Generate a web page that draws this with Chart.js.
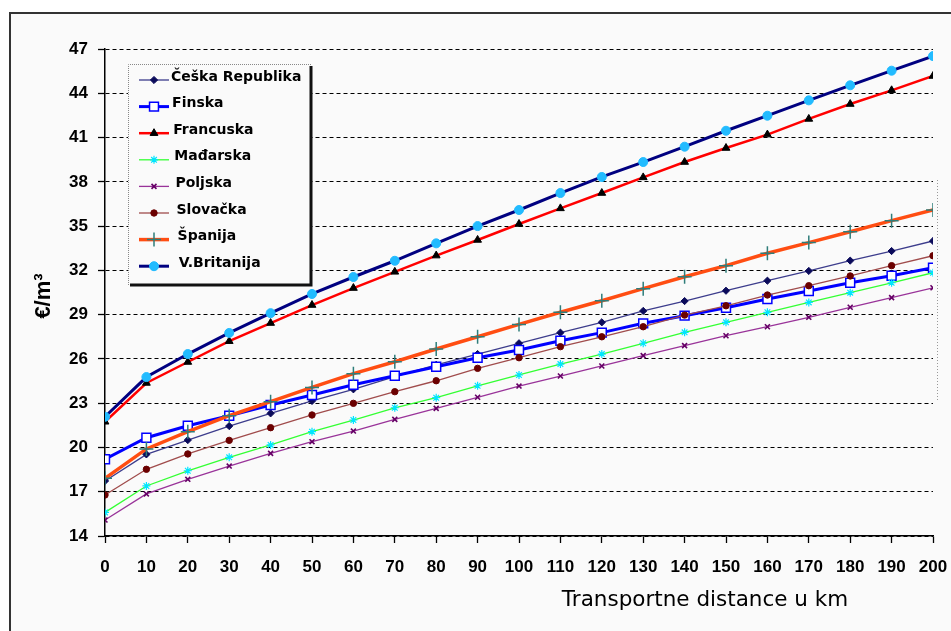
<!DOCTYPE html>
<html>
<head>
<meta charset="utf-8">
<script src="https://cdn.jsdelivr.net/npm/chart.js@4/dist/chart.umd.min.js"></script>
<style>
  html, body { margin: 0; padding: 0; background: #ffffff; width: 951px; height: 631px; overflow: hidden; }
  #frame { position: absolute; left: 9px; top: 12px; width: 980px; height: 660px;
           border-left: 2px solid #333; border-top: 2px solid #333; background: #fafafa; }
  #wrap { position: absolute; left: 0; top: 0; width: 951px; height: 631px; }
</style>
</head>
<body>
<div id="frame"></div>
<div id="wrap"><canvas id="c" width="951" height="631"></canvas></div>
<script>
// Transport distance (km) and cost per cubic metre (€/m³) by country
const distances = [0, 10, 20, 30, 40, 50, 60, 70, 80, 90, 100, 110, 120, 130, 140, 150, 160, 170, 180, 190, 200];

const ceska      = [17.73, 19.53, 20.50, 21.45, 22.31, 23.15, 23.94, 24.80, 25.60, 26.33, 27.06, 27.78, 28.48, 29.25, 29.92, 30.62, 31.30, 31.96, 32.66, 33.31, 33.99];
const finska     = [19.20, 20.66, 21.47, 22.15, 22.88, 23.55, 24.25, 24.86, 25.47, 26.08, 26.60, 27.23, 27.78, 28.41, 28.93, 29.47, 30.06, 30.60, 31.16, 31.64, 32.18];
const francuska  = [21.74, 24.37, 25.79, 27.20, 28.43, 29.65, 30.80, 31.90, 33.00, 34.06, 35.14, 36.20, 37.24, 38.30, 39.34, 40.29, 41.20, 42.26, 43.27, 44.20, 45.17];
const madjarska  = [15.60, 17.39, 18.42, 19.33, 20.17, 21.07, 21.86, 22.69, 23.37, 24.18, 24.91, 25.65, 26.33, 27.06, 27.80, 28.48, 29.16, 29.83, 30.49, 31.16, 31.84];
const poljska    = [15.08, 16.85, 17.84, 18.74, 19.60, 20.39, 21.11, 21.90, 22.65, 23.40, 24.16, 24.84, 25.52, 26.22, 26.90, 27.57, 28.18, 28.82, 29.50, 30.15, 30.82];
const slovacka   = [16.78, 18.52, 19.56, 20.48, 21.34, 22.20, 22.99, 23.78, 24.52, 25.36, 26.08, 26.83, 27.50, 28.18, 28.97, 29.60, 30.33, 30.96, 31.62, 32.32, 32.99];
const spanija    = [17.91, 19.90, 21.07, 22.15, 23.10, 24.07, 25.00, 25.81, 26.67, 27.50, 28.34, 29.16, 29.94, 30.76, 31.57, 32.32, 33.16, 33.88, 34.62, 35.37, 36.09];
const britanija  = [22.08, 24.77, 26.33, 27.76, 29.10, 30.40, 31.55, 32.65, 33.83, 35.00, 36.09, 37.24, 38.33, 39.34, 40.38, 41.46, 42.48, 43.52, 44.54, 45.53, 46.52];

const seriesNames = ['Češka Republika', 'Finska', 'Francuska', 'Mađarska', 'Poljska', 'Slovačka', 'Španija', 'V.Britanija'];
const yTicksMin = 14, yTicksMax = 47, yTicksStep = 3;
const xTitle = 'Transportne distance u km';
const yTitle = '€/m³';

const toPoints = vals => vals.map((v, i) => ({ x: distances[i], y: v }));

const styles = [
  { borderColor: '#3c3c8c', borderWidth: 1.3, pointStyle: 'rectRot',  pointRadius: 3.6, pointBackgroundColor: '#0a0a5a', pointBorderColor: '#0a0a5a', pointBorderWidth: 1 },
  { borderColor: '#0000ff', borderWidth: 3,   pointStyle: 'rect',     pointRadius: 6.3, pointBackgroundColor: '#ffffff', pointBorderColor: '#0000ff', pointBorderWidth: 1.5 },
  { borderColor: '#ff0000', borderWidth: 2.5, pointStyle: 'triangle', pointRadius: 4.5, pointBackgroundColor: '#000000', pointBorderColor: '#000000', pointBorderWidth: 1 },
  { borderColor: '#33ff33', borderWidth: 1.3, pointStyle: 'star',     pointRadius: 4,   pointBackgroundColor: '#00e5ff', pointBorderColor: '#00e5ff', pointBorderWidth: 1.2 },
  { borderColor: '#993399', borderWidth: 1.3, pointStyle: 'crossRot', pointRadius: 3.5, pointBackgroundColor: '#660066', pointBorderColor: '#660066', pointBorderWidth: 1.6 },
  { borderColor: '#a04c4c', borderWidth: 1.3, pointStyle: 'circle',   pointRadius: 3.2, pointBackgroundColor: '#6b0000', pointBorderColor: '#6b0000', pointBorderWidth: 1 },
  { borderColor: '#ff4d12', borderWidth: 3.5, pointStyle: 'cross',    pointRadius: 7,   pointBackgroundColor: '#2e7d7a', pointBorderColor: '#2e7d7a', pointBorderWidth: 1.5 },
  { borderColor: '#000080', borderWidth: 3,   pointStyle: 'circle',   pointRadius: 4.5, pointBackgroundColor: '#22bbff', pointBorderColor: '#22bbff', pointBorderWidth: 1 }
];

const seriesValues = [ceska, finska, francuska, madjarska, poljska, slovacka, spanija, britanija];

const datasets = seriesValues.map((vals, i) => Object.assign({
  label: seriesNames[i],
  data: toPoints(vals),
  tension: 0,
  fill: false,
  order: seriesValues.length - i   // later series drawn on top
}, styles[i]));

// Draws the point marker used in the legend rows
function drawMarker(ctx, ds, x, y) {
  ctx.save();
  ctx.fillStyle = ds.pointBackgroundColor;
  ctx.strokeStyle = ds.pointBorderColor;
  ctx.lineWidth = ds.pointBorderWidth;
  if (Chart.helpers && Chart.helpers.drawPoint) {
    Chart.helpers.drawPoint(ctx, { pointStyle: ds.pointStyle, radius: ds.pointRadius, borderWidth: ds.pointBorderWidth, rotation: 0 }, x, y);
  }
  ctx.restore();
}

const legendBoxPlugin = {
  id: 'legendBox',
  afterDraw(chart) {
    const ctx = chart.ctx;
    const box = { l: 128, t: 64, r: 311, b: 285 };
    ctx.save();
    ctx.fillStyle = '#fafafa';
    ctx.fillRect(box.l, box.t, box.r - box.l, box.b - box.t);
    // dotted top/left edges
    ctx.strokeStyle = '#888';
    ctx.lineWidth = 1;
    ctx.setLineDash([1, 1]);
    ctx.beginPath();
    ctx.moveTo(box.l + 0.5, box.b);
    ctx.lineTo(box.l + 0.5, box.t + 0.5);
    ctx.lineTo(box.r, box.t + 0.5);
    ctx.stroke();
    // heavy shadow on right/bottom edges
    ctx.setLineDash([]);
    ctx.strokeStyle = '#111';
    ctx.lineWidth = 3;
    ctx.beginPath();
    ctx.moveTo(box.r, box.t + 2);
    ctx.lineTo(box.r, box.b);
    ctx.lineTo(box.l + 2, box.b);
    ctx.stroke();

    ctx.font = 'bold 14px "DejaVu Sans"';
    ctx.textBaseline = 'middle';
    ctx.textAlign = 'left';
    chart.data.datasets.forEach((ds, i) => {
      const y = 80 + i * 26.6;
      const x0 = 139, x1 = 169;
      ctx.save();
      ctx.strokeStyle = ds.borderColor;
      ctx.lineWidth = ds.borderWidth;
      ctx.beginPath();
      ctx.moveTo(x0, y);
      ctx.lineTo(x1, y);
      ctx.stroke();
      ctx.restore();
      drawMarker(ctx, ds, 154, y);
      ctx.fillStyle = '#000';
      ctx.fillText(ds.label, 171 + i * 1.1, y - 3);
    });
    ctx.restore();
  }
};

const axisTitlesPlugin = {
  id: 'axisTitles',
  afterDraw(chart) {
    const ctx = chart.ctx;
    ctx.save();
    // thin dotted selection edge at the right of the plot
    ctx.strokeStyle = '#999';
    ctx.lineWidth = 1;
    ctx.setLineDash([1, 2]);
    ctx.beginPath();
    ctx.moveTo(937.5, 180);
    ctx.lineTo(937.5, 400);
    ctx.stroke();
    ctx.setLineDash([]);

    ctx.fillStyle = '#000';
    ctx.font = '21.5px "DejaVu Sans"';
    ctx.textAlign = 'center';
    ctx.textBaseline = 'middle';
    ctx.fillText(xTitle, 705, 600);
    ctx.translate(44, 296);
    ctx.rotate(-Math.PI / 2);
    ctx.font = 'bold 22px "Liberation Sans"';
    ctx.fillText(yTitle, 0, 0);
    ctx.restore();
  }
};

new Chart(document.getElementById('c'), {
  type: 'line',
  data: { datasets },
  options: {
    responsive: false,
    animation: false,
    devicePixelRatio: 1,
    layout: { padding: { left: 0, right: 18, top: 49, bottom: 0 } },
    plugins: { legend: { display: false }, tooltip: { enabled: false } },
    scales: {
      x: {
        type: 'linear',
        min: 0,
        max: 200,
        ticks: { stepSize: 10, color: '#000', padding: 14, maxRotation: 0, autoSkip: false,
                 font: { family: '"Liberation Sans"', size: 17, weight: 'bold' } },
        grid: { drawOnChartArea: false, drawTicks: true, tickLength: 7, color: '#000', tickColor: '#000', tickWidth: 1.3 },
        border: { display: true, color: '#000', width: 1.5 },
        afterFit(scale) { scale.height = 95; scale.paddingLeft = 0; scale.paddingRight = 0; }
      },
      y: {
        min: yTicksMin,
        max: yTicksMax,
        ticks: { stepSize: yTicksStep, color: '#000', padding: 10,
                 font: { family: '"Liberation Sans"', size: 17, weight: 'bold' } },
        grid: { color: '#000', lineWidth: 1, tickLength: 7, tickColor: '#000', tickWidth: 1.3 },
        border: { display: true, color: '#000', width: 1.5, dash: [4, 3] },
        afterFit(scale) { scale.width = 105; scale.paddingTop = 0; scale.paddingBottom = 0; }
      }
    }
  },
  plugins: [legendBoxPlugin, axisTitlesPlugin]
});
</script>
</body>
</html>
